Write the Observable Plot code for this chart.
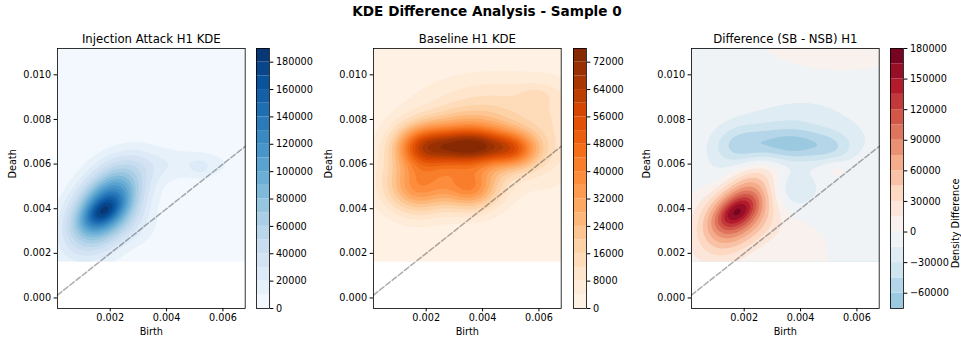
<!DOCTYPE html>
<html><head><meta charset="utf-8">
<script src="https://cdn.jsdelivr.net/npm/d3@7"></script>
<script src="https://cdn.jsdelivr.net/npm/@observablehq/plot@0.6"></script>
<style>
body{margin:0;background:#fff;}
#fig{position:relative;width:961px;height:340px;overflow:hidden;background:#fff;font-family:"DejaVu Sans",sans-serif;}
#fig svg{position:absolute;top:0;overflow:visible;background:transparent;}
</style></head><body><div id="fig"></div>
<script>
// ---- data ----
const suptitle = "KDE Difference Analysis - Sample 0";
const panelTitles = ["Injection Attack H1 KDE", "Baseline H1 KDE", "Difference (SB - NSB) H1"];
const xLimits = [0.00013, 0.00679];
const yLimits = [-0.00047, 0.01118];
const gridBirth = [0.00013, 0.00679];   // KDE evaluation grid extent
const gridDeath = [0.00163, 0.01118];
const diagLine = [0.00013, 0.00679];
const xTicks = [0.002, 0.004, 0.006];
const yTicks = [0, 0.002, 0.004, 0.006, 0.008, 0.010];

// Kernel components of each KDE: [birth, death, sdBirth, sdDeath, corr, peakDensity]
const sbComponents = [
  [0.00185, 0.00410, 0.00085, 0.00120, 0.45, 145000],
  [0.00172, 0.00385, 0.00045, 0.00045, 0.50, 38000],
  [0.00450, 0.00600, 0.00160, 0.00055, 0.00, 16000],
  [0.00520, 0.00585, 0.00030, 0.00030, 0.00, 10000],
  [0.00300, 0.00320, 0.00060, 0.00060, 0.00, 8000],
  [0.00200, 0.00250, 0.00170, 0.00170, 0.00, 4000],
  [0.00540, 0.01120, 0.00120, 0.00075, 0.00, 9000]
];
const nsbComponents = [
  [0.00180, 0.00680, 0.00070, 0.00070, 0, 36000],
  [0.00360, 0.00680, 0.00110, 0.00058, 0, 63000],
  [0.00520, 0.00660, 0.00060, 0.00060, 0, 26000],
  [0.00170, 0.00490, 0.00080, 0.00080, 0, 30000],
  [0.00360, 0.00490, 0.00070, 0.00070, 0, 30000],
  [0.00450, 0.00880, 0.00180, 0.00090, 0, 10000],
  [0.00300, 0.00580, 0.00150, 0.00080, 0, 14000],
  [0.00350, 0.00780, 0.00120, 0.00060, 0, 15000],
  [0.00650, 0.00720, 0.00080, 0.00150, 0, 7000],
  [0.00590, 0.00910, 0.00040, 0.00030, 0, 4000],
  [0.00350, 0.00600, 0.00400, 0.00400, 0, 1500]
];

// contour levels and colorbar ticks
const levelsSB = [0,10000,20000,30000,40000,50000,60000,70000,80000,90000,100000,110000,120000,130000,140000,150000,160000,170000,180000,190000];
const levelsNSB = [0,4000,8000,12000,16000,20000,24000,28000,32000,36000,40000,44000,48000,52000,56000,60000,64000,68000,72000,76000];
const levelsDiff = [-75000,-60000,-45000,-30000,-15000,0,15000,30000,45000,60000,75000,90000,105000,120000,135000,150000,165000,180000];
const ticksSB = [0,20000,40000,60000,80000,100000,120000,140000,160000,180000];
const ticksNSB = [0,8000,16000,24000,32000,40000,48000,56000,64000,72000];
const ticksDiff = [-60000,-30000,0,30000,60000,90000,120000,150000,180000];
const diffNormMax = 180000;
const cbarLabel = "Density Difference";

// ---- helpers ----
function kde(components) {
  return (x, y) => {
    let s = 0;
    for (const [mx, my, sx, sy, r, a] of components) {
      const u = (x - mx) / sx, v = (y - my) / sy;
      s += a * Math.exp(-0.5 * (u * u + v * v - 2 * r * u * v) / (1 - r * r));
    }
    return s;
  };
}
const fSB = kde(sbComponents), fNSB = kde(nsbComponents);
const fDiff = (x, y) => fSB(x, y) - fNSB(x, y);

const cmap = (scheme) => d3.piecewise(d3.interpolateRgb, scheme);
const blues = cmap(d3.schemeBlues[9]);
const oranges = cmap(d3.schemeOranges[9]);
const rdbu_r = cmap(d3.schemeRdBu[11].slice().reverse());
function bandColors(levels, interp, lo, hi) {
  const out = [];
  for (let i = 0; i < levels.length - 1; i++) {
    const mid = (levels[i] + levels[i + 1]) / 2;
    out.push(interp((mid - lo) / (hi - lo)));
  }
  return out;
}
const colSB = bandColors(levelsSB, blues, levelsSB[0], levelsSB.at(-1));
const colNSB = bandColors(levelsNSB, oranges, levelsNSB[0], levelsNSB.at(-1));
const colDiff = bandColors(levelsDiff, rdbu_r, -diffNormMax, diffNormMax);

// ---- layout ----
const TOP = 48, BOTTOM = 308, AX_W = 187.7;
const axLeft = [56.7, 373.3, 690.7];
const cbLeft = [256, 573.3, 890], CB_W = 13;
const fig = document.getElementById("fig");
const font = {fontFamily: "DejaVu Sans", fontSize: "9.7px", background: "transparent", overflow: "visible"};

function panel(i, fn, levels, colors) {
  const ml = 60, mr = 4;
  const svg = Plot.plot({
    width: AX_W + ml + mr, height: 340,
    marginLeft: ml, marginRight: mr, marginTop: TOP, marginBottom: 340 - BOTTOM,
    style: font,
    x: {domain: xLimits, label: null},
    y: {domain: yLimits, label: null},
    color: {type: "threshold", domain: levels.slice(1), range: [...colors, colors.at(-1)]},
    marks: [
      Plot.contour({x1: gridBirth[0], x2: gridBirth[1], y1: gridDeath[0], y2: gridDeath[1],
        fill: fn, thresholds: levels.slice(0, -1), pixelSize: 1, smooth: true}),
      Plot.line(diagLine, {x: d => d, y: d => d, stroke: "black", strokeOpacity: 0.33, strokeWidth: 1.5, strokeDasharray: "5.5,2.4"}),
      Plot.frame({stroke: "black", strokeWidth: 0.8}),
      Plot.axisX({ticks: xTicks, tickFormat: d3.format(".3f"), tickSize: 3.4, tickPadding: 2.5, label: null}),
      Plot.axisY({ticks: yTicks, tickFormat: d3.format(".3f"), tickSize: 3.4, tickPadding: 3, label: null}),
      Plot.text([panelTitles[i]], {frameAnchor: "top", dy: -14, fontSize: 11.7}),
      Plot.text(["Birth"], {frameAnchor: "bottom", dy: 26.5, fontSize: 9.7}),
      Plot.text(["Death"], {frameAnchor: "left", dx: -44.5, rotate: -90, fontSize: 9.7})
    ]
  });
  svg.style.left = (axLeft[i] - ml) + "px";
  fig.appendChild(svg);
}

function colorbar(i, levels, colors, ticks, label) {
  const mr = 60;
  const bands = levels.slice(0, -1).map((lo, k) => ({lo, hi: levels[k + 1], c: colors[k]}));
  const marks = [
    Plot.rect(bands, {x1: 0, x2: 1, y1: "lo", y2: "hi", fill: "c"}),
    Plot.frame({stroke: "black", strokeWidth: 0.8}),
    Plot.axisY({anchor: "right", ticks, tickFormat: d3.format("d"), tickSize: 3.4, tickPadding: 3, label: null})
  ];
  if (label) marks.push(Plot.text([label], {frameAnchor: "right", dx: 52.5, rotate: -90, fontSize: 9.7}));
  const svg = Plot.plot({
    width: CB_W + mr, height: 340,
    marginLeft: 0, marginRight: mr, marginTop: TOP, marginBottom: 340 - BOTTOM,
    style: font,
    x: {domain: [0, 1], axis: null},
    y: {domain: [levels[0], levels.at(-1)], axis: null},
    color: {type: "identity"},
    marks
  });
  svg.style.left = cbLeft[i] + "px";
  fig.appendChild(svg);
}

panel(0, fSB, levelsSB, colSB);
panel(1, fNSB, levelsNSB, colNSB);
panel(2, fDiff, levelsDiff, colDiff);
colorbar(0, levelsSB, colSB, ticksSB);
colorbar(1, levelsNSB, colNSB, ticksNSB);
colorbar(2, levelsDiff, colDiff, ticksDiff, cbarLabel);

// suptitle
const t = d3.select(fig).append("svg").attr("width", 961).attr("height", 30).style("left", "0px");
t.append("text").attr("x", 487).attr("y", 16).attr("text-anchor", "middle")
  .attr("font-family", "DejaVu Sans").attr("font-weight", "bold").attr("font-size", "13.6px")
  .text(suptitle);
</script>
</body></html>
